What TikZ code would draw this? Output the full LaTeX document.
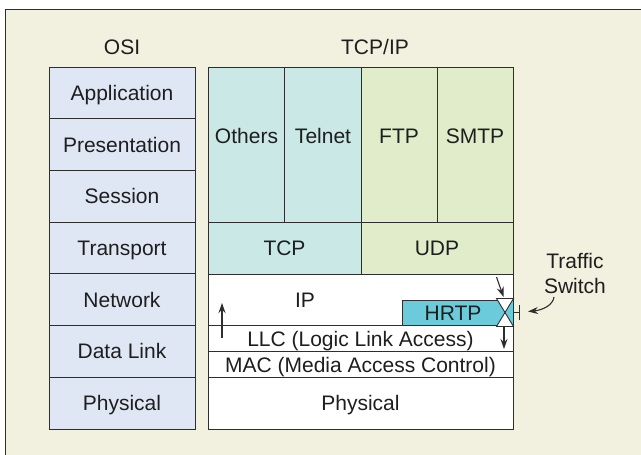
\documentclass[tikz,border=0pt]{standalone}
\usepackage{fontspec}
\setmainfont{Liberation Sans}
\usetikzlibrary{arrows.meta}
\definecolor{bg}{HTML}{F2F0DF}
\definecolor{osic}{HTML}{E0E7F4}
\definecolor{tcpc}{HTML}{C9E8E6}
\definecolor{udpc}{HTML}{E1ECCB}
\definecolor{hrtpc}{HTML}{6CCBDB}
\definecolor{ln}{HTML}{2E2E2E}
\definecolor{tx}{HTML}{1E1E1E}
\begin{document}
\begin{tikzpicture}[x=1pt,y=-1pt,
  txt/.style={inner sep=0pt, outer sep=0pt, text=tx, font=\fontsize{21}{25}\selectfont, text height=15pt, text depth=0pt},
  cell/.style={txt, draw=ln, line width=0.9pt},
  osirow/.style={cell, fill=osic, minimum width=146pt, minimum height=51.7pt},
  arr/.style={draw=ln, line width=1.1pt, -{Stealth[length=10pt,width=7pt]}},
  sw/.style={draw=ln, line width=0.9pt, fill=white}]
\clip (0,0) rectangle (641,455);
\fill[white] (0,0) rectangle (641,455);
\fill[bg] (5.5,9.5) rectangle (700,700);
\draw[ln, line width=0.9pt] (5.5,700) -- (5.5,9.5) -- (700,9.5);

% headers
\node[txt] (hosi) at (122,47) {OSI};
\node[txt] (htcp) at (375,47) {TCP/IP};

% OSI stack
\node[osirow] (oapp) at (122,92.86) {Application};
\node[osirow] (opre) at (122,144.57) {Presentation};
\node[osirow] (oses) at (122,196.29) {Session};
\node[osirow] (otra) at (122,248.0) {Transport};
\node[osirow] (onet) at (122,299.71) {Network};
\node[osirow] (odl)  at (122,351.43) {Data Link};
\node[osirow] (ophy) at (122,403.14) {Physical};

% TCP/IP application cells
\node[cell, fill=tcpc, minimum width=76.75pt, minimum height=155pt] (cothers) at (246.375,144.5) {};
\node[cell, fill=tcpc, minimum width=76.25pt, minimum height=155pt] (ctelnet) at (322.875,144.5) {};
\node[cell, fill=udpc, minimum width=76pt, minimum height=155pt] (cftp) at (399,144.5) {};
\node[cell, fill=udpc, minimum width=76pt, minimum height=155pt] (csmtp) at (475,144.5) {};
\node[txt] (tothers) at (246.5,135.5) {Others};
\node[txt] (ttelnet) at (323,135.5) {Telnet};
\node[txt] (tftp) at (399,135.5) {FTP};
\node[txt] (tsmtp) at (475,135.5) {SMTP};

% transport
\node[cell, fill=tcpc, minimum width=153pt, minimum height=52pt] (ctcp) at (284.5,248) {TCP};
\node[cell, fill=udpc, minimum width=152pt, minimum height=52pt] (cudp) at (437,248) {UDP};

% IP and below
\node[cell, fill=white, minimum width=305pt, minimum height=51.7pt] (cip) at (360.5,299.85) {};
\node[txt] (tip) at (305,299.5) {IP};
\node[cell, fill=hrtpc, minimum width=111pt, minimum height=25.7pt] (chrtp) at (457.5,312.85) {};
\node[txt] (thrtp) at (453,312.5) {HRTP};
\node[cell, fill=white, minimum width=305pt, minimum height=26pt] (cllc) at (360.5,338.7) {LLC (Logic Link Access)};
\node[cell, fill=white, minimum width=305pt, minimum height=26pt] (cmac) at (360.5,364.7) {MAC (Media Access Control)};
\node[cell, fill=white, minimum width=305pt, minimum height=51.3pt] (cphy) at (360.5,403.35) {Physical};

% traffic switch
\coordinate (swc) at (505,312.5);
\draw[sw] (496.5,298.5) -- (513.5,298.5) -- (swc) -- cycle;
\draw[sw] (496.5,326.5) -- (513.5,326.5) -- (swc) -- cycle;
\coordinate (tbar) at (519,312.5);
\draw[draw=ln, line width=0.9pt] (513.5,312.5) -- (tbar);
\draw[draw=ln, line width=1pt] (519,305) -- (519,320);

\node[txt, align=center] (tsw) at (575,285.5) {Traffic\\Switch};
\coordinate (tswa) at (554,297);
\coordinate (tswb) at (528,311.5);
\draw[arr] (tswa) .. controls (553,305) and (543,310) .. (tswb);

% flow arrows
\coordinate (ina) at (496.5,277);
\coordinate (inb) at (503.5,297);
\draw[arr] (ina) -- (inb);
\coordinate (outa) at (504,327);
\coordinate (outb) at (504,349);
\draw[arr] (outa) -- (outb);
\coordinate (upa) at (222,338);
\coordinate (upb) at (222,303);
\draw[arr] (upa) -- (upb);
\end{tikzpicture}
\end{document}
